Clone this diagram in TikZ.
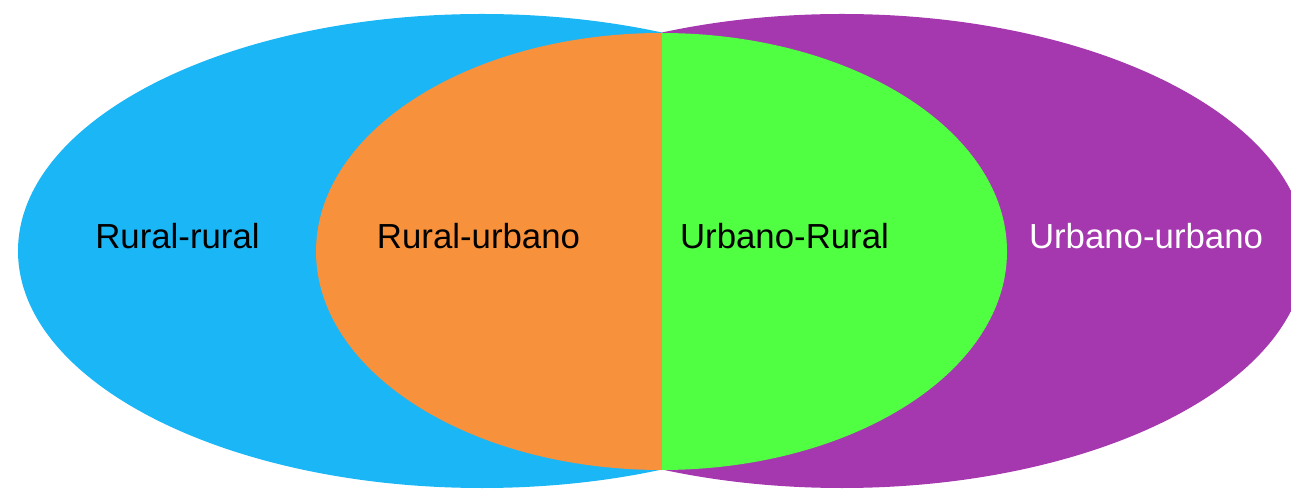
\documentclass[tikz,border=0pt]{standalone}
\usepackage{fontspec}
\setmainfont{Liberation Sans}
\definecolor{cblue}{RGB}{27,182,245}
\definecolor{cpurple}{RGB}{165,55,175}
\definecolor{corange}{RGB}{248,145,60}
\definecolor{cgreen}{RGB}{80,255,65}
\begin{document}
\begin{tikzpicture}[x=0.02cm,y=-0.02cm,
  lbl/.style={font=\fontsize{19.8}{24}\selectfont, text=black, inner sep=0pt},
  wlbl/.style={lbl, text=white}]
\useasboundingbox (0,0) rectangle (1291,489);
% outer ellipses
\begin{scope}
  \clip (0,0) rectangle (662,489);
  \fill[cblue] (482,251) ellipse [x radius=464, y radius=237];
\end{scope}
\begin{scope}
  \clip (662,0) rectangle (1291,489);
  \fill[cpurple] (842,251) ellipse [x radius=464, y radius=237];
\end{scope}
% central ellipse
\begin{scope}
  \clip (0,0) rectangle (662,489);
  \fill[corange] (661.5,251.5) ellipse [x radius=345.5, y radius=218.5];
\end{scope}
\begin{scope}
  \clip (662,0) rectangle (1291,489);
  \fill[cgreen] (661.5,251.5) ellipse [x radius=345.5, y radius=218.5];
\end{scope}
% labels
\node[lbl]  (rr) at (177.5,236) {Rural-rural};
\node[lbl]  (ru) at (478.5,236) {Rural-urbano};
\node[lbl]  (ur) at (784.5,236) {Urbano-Rural};
\node[wlbl] (uu) at (1146,236) {Urbano-urbano};
\end{tikzpicture}
\end{document}
